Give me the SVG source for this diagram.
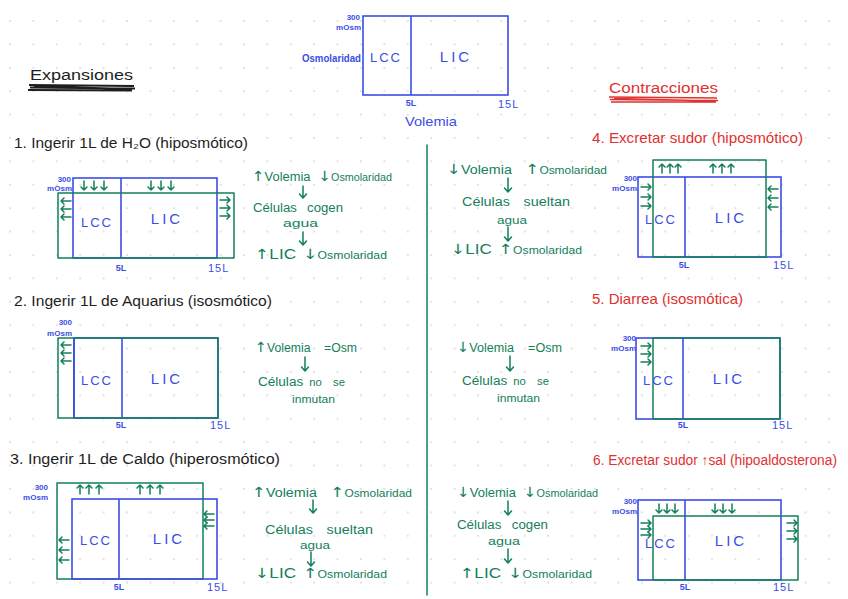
<svg xmlns="http://www.w3.org/2000/svg" width="848" height="599" viewBox="0 0 848 599">
<style>
text{font-family:"Liberation Sans","DejaVu Sans",sans-serif}
.b{stroke:#3b4ee6;fill:none;stroke-width:1.6}
.g{stroke:#13805a;fill:none;stroke-width:1.5;stroke-linecap:round;stroke-linejoin:round}
.tb{fill:#3b4ee6}
.tg{fill:#13805a}
.tr{fill:#e03131}
.tk{fill:#1e1e1e}
.lab{font-size:13px;letter-spacing:2px;text-anchor:middle}
.lic{font-size:15px;letter-spacing:3px;text-anchor:middle}
.osm{font-size:8px;font-weight:bold;text-anchor:end}
.vol{font-size:9px;font-weight:bold}
.ttl{font-size:14px}
.note{font-size:12px}
.ar{font-family:"DejaVu Sans",sans-serif;font-size:14px}
</style>
<defs>
<pattern id="grid" width="23.4" height="23.4" patternUnits="userSpaceOnUse" x="9" y="20">
<circle cx="1" cy="1" r="0.9" fill="#d4d4d4"/>
</pattern>
<path id="ad" d="M0,0 V9 M-3,6 L0,9 L3,6"/>
<path id="au" d="M0,9 V0 M-3,3 L0,0 L3,3"/>
<path id="al" d="M10,0 H0 M3,-3 L0,0 L3,3"/>
<path id="ar" d="M0,0 H10 M7,-3 L10,0 L7,3"/>
</defs>
<rect width="848" height="599" fill="#ffffff"/>
<rect width="848" height="599" fill="url(#grid)"/>

<g id="reference">
<rect class="b" x="363" y="16" width="145" height="79"/>
<line class="b" x1="411" y1="16" x2="411" y2="95"/>
<text class="tb osm" x="360" y="20">300</text>
<text class="tb osm" x="361" y="30">mOsm</text>
<text class="tb" x="302" y="62" font-size="10" font-weight="bold" textLength="59" lengthAdjust="spacingAndGlyphs">Osmolaridad</text>
<text class="tb lab" x="386" y="62">LCC</text>
<text class="tb lic" x="456" y="62">LIC</text>
<text class="tb vol" x="411" y="106" text-anchor="middle">5L</text>
<text class="tb" x="498" y="108" font-size="11" letter-spacing="1">15L</text>
<text class="tb" x="405" y="126" font-size="13" textLength="52" lengthAdjust="spacingAndGlyphs">Volemia</text>
</g>

<g id="titulo-expansiones">
<text class="tk" x="30" y="80" font-size="14" textLength="103" lengthAdjust="spacingAndGlyphs">Expansiones</text>
<path d="M29,85 L134,86 M30,87.5 L135,88.5 M28,90 L132,90.5 M34,86.5 L131,89" stroke="#1e1e1e" stroke-width="1.8" fill="none"/>
</g>

<g id="titulo-contracciones">
<text class="tr" x="609" y="93" font-size="14" textLength="109" lengthAdjust="spacingAndGlyphs">Contracciones</text>
<path d="M609,97 L717,98 M610,99.5 L718,100.5 M611,102 L716,102 M614,98.5 L714,101" stroke="#e03131" stroke-width="1.6" fill="none"/>
</g>

<g id="divisor">
<line class="g" x1="427" y1="145" x2="427" y2="595" stroke-width="1.8"/>
</g>

<g id="caso1">
<text class="tk ttl" x="14" y="148" textLength="234" lengthAdjust="spacingAndGlyphs">1. Ingerir 1L de H₂O (hiposmótico)</text>
<rect class="b" x="73" y="178" width="144" height="80"/>
<line class="b" x1="121" y1="178" x2="121" y2="258"/>
<rect class="g" x="58" y="193" width="176" height="65"/>
<text class="tb osm" x="71" y="182">300</text>
<text class="tb osm" x="72" y="191">mOsm</text>
<use href="#ad" class="g" x="84" y="181"/><use href="#ad" class="g" x="94" y="181"/><use href="#ad" class="g" x="104" y="181"/>
<use href="#ad" class="g" x="151" y="181"/><use href="#ad" class="g" x="161" y="181"/><use href="#ad" class="g" x="171" y="181"/>
<use href="#al" class="g" x="61" y="201"/><use href="#al" class="g" x="61" y="209"/><use href="#al" class="g" x="61" y="217"/>
<use href="#ar" class="g" x="220" y="200"/><use href="#ar" class="g" x="220" y="208"/><use href="#ar" class="g" x="220" y="216"/>
<text class="tb lab" x="97" y="227">LCC</text>
<text class="tb lic" x="167" y="224">LIC</text>
<text class="tb vol" x="121" y="271" text-anchor="middle">5L</text>
<text class="tb" x="208" y="272" font-size="11" letter-spacing="1">15L</text>
<text class="tg note" x="252" y="181" textLength="140" lengthAdjust="spacingAndGlyphs"><tspan class="ar">↑</tspan>Volemia <tspan class="ar" dx="4">↓</tspan><tspan font-size="10">Osmolaridad</tspan></text>
<text class="tg note" x="253" y="212" textLength="90" lengthAdjust="spacingAndGlyphs">Células <tspan dx="6">cogen</tspan></text>
<text class="tg" x="283" y="227" font-size="11" textLength="35" lengthAdjust="spacingAndGlyphs">agua</text>
<text class="tg" x="255" y="259" font-size="14" textLength="132" lengthAdjust="spacingAndGlyphs"><tspan class="ar">↑</tspan>LIC <tspan class="ar" dx="2">↓</tspan><tspan font-size="10">Osmolaridad</tspan></text>
</g>

<g id="caso2">
<text class="tk ttl" x="14" y="306" textLength="258" lengthAdjust="spacingAndGlyphs">2. Ingerir 1L de Aquarius (isosmótico)</text>
<rect class="b" x="74" y="338" width="144" height="80"/>
<line class="b" x1="122" y1="338" x2="122" y2="418"/>
<rect class="g" x="58" y="338" width="160" height="80"/>
<line class="b" x1="74" y1="338" x2="74" y2="418"/>
<text class="tb osm" x="72" y="325">300</text>
<text class="tb osm" x="72" y="336">mOsm</text>
<use href="#al" class="g" x="61" y="345"/><use href="#al" class="g" x="61" y="353"/><use href="#al" class="g" x="61" y="361"/>
<text class="tb lab" x="97" y="385">LCC</text>
<text class="tb lic" x="167" y="384">LIC</text>
<text class="tb vol" x="121" y="428" text-anchor="middle">5L</text>
<text class="tb" x="210" y="429" font-size="11" letter-spacing="1">15L</text>
<text class="tg note" x="255" y="352" textLength="102" lengthAdjust="spacingAndGlyphs"><tspan class="ar">↑</tspan>Volemia <tspan dx="10">=Osm</tspan></text>
<text class="tg note" x="258" y="386" textLength="87" lengthAdjust="spacingAndGlyphs">Células <tspan font-size="10" dx="2">no</tspan><tspan font-size="10" dx="10">se</tspan></text>
<text class="tg" x="292" y="403" font-size="10" textLength="43" lengthAdjust="spacingAndGlyphs">inmutan</text>
</g>

<g id="caso3">
<text class="tk ttl" x="10" y="464" textLength="270" lengthAdjust="spacingAndGlyphs">3. Ingerir 1L de Caldo (hiperosmótico)</text>
<rect class="g" x="57" y="483" width="146" height="96"/>
<rect class="b" x="72" y="499" width="145" height="80"/>
<line class="b" x1="119" y1="499" x2="119" y2="579"/>
<text class="tb osm" x="48" y="490">300</text>
<text class="tb osm" x="48" y="500">mOsm</text>
<use href="#au" class="g" x="80" y="485"/><use href="#au" class="g" x="89" y="485"/><use href="#au" class="g" x="99" y="485"/>
<use href="#au" class="g" x="140" y="485"/><use href="#au" class="g" x="150" y="485"/><use href="#au" class="g" x="160" y="485"/>
<use href="#al" class="g" x="59" y="540"/><use href="#al" class="g" x="59" y="550"/><use href="#al" class="g" x="59" y="560"/>
<use href="#al" class="g" x="204" y="514"/><use href="#al" class="g" x="204" y="520"/><use href="#al" class="g" x="204" y="526"/>
<text class="tb lab" x="96" y="545">LCC</text>
<text class="tb lic" x="169" y="544">LIC</text>
<text class="tb vol" x="119" y="590" text-anchor="middle">5L</text>
<text class="tb" x="207" y="591" font-size="11" letter-spacing="1">15L</text>
<text class="tg note" x="252" y="497" textLength="160" lengthAdjust="spacingAndGlyphs"><tspan class="ar">↑</tspan>Volemia <tspan class="ar" dx="8">↑</tspan><tspan font-size="10">Osmolaridad</tspan></text>
<text class="tg note" x="265" y="534" textLength="108" lengthAdjust="spacingAndGlyphs">Células <tspan dx="8">sueltan</tspan></text>
<text class="tg" x="300" y="549" font-size="11" textLength="30" lengthAdjust="spacingAndGlyphs">agua</text>
<text class="tg" x="255" y="578" font-size="14" textLength="132" lengthAdjust="spacingAndGlyphs"><tspan class="ar">↓</tspan>LIC <tspan class="ar" dx="2">↑</tspan><tspan font-size="10">Osmolaridad</tspan></text>
</g>

<g id="caso4">
<text class="tr" x="592" y="143" font-size="15" textLength="211" lengthAdjust="spacingAndGlyphs">4. Excretar sudor (hiposmótico)</text>
<rect class="b" x="638" y="177" width="143" height="80"/>
<line class="b" x1="685" y1="177" x2="685" y2="257"/>
<rect class="g" x="653" y="160" width="113" height="97"/>
<text class="tb osm" x="637" y="181">300</text>
<text class="tb osm" x="637" y="191">mOsm</text>
<use href="#au" class="g" x="662" y="164"/><use href="#au" class="g" x="670" y="164"/><use href="#au" class="g" x="678" y="164"/>
<use href="#au" class="g" x="713" y="164"/><use href="#au" class="g" x="722" y="164"/><use href="#au" class="g" x="731" y="164"/>
<use href="#ar" class="g" x="641" y="187"/><use href="#ar" class="g" x="641" y="197"/><use href="#ar" class="g" x="641" y="206"/>
<use href="#al" class="g" x="768" y="189"/><use href="#al" class="g" x="768" y="198"/><use href="#al" class="g" x="768" y="207"/>
<text class="tb lab" x="661" y="224">LCC</text>
<text class="tb lic" x="731" y="223">LIC</text>
<text class="tb vol" x="684" y="268" text-anchor="middle">5L</text>
<text class="tb" x="773" y="269" font-size="11" letter-spacing="1">15L</text>
<text class="tg note" x="447" y="174" textLength="160" lengthAdjust="spacingAndGlyphs"><tspan class="ar">↓</tspan>Volemia <tspan class="ar" dx="8">↑</tspan><tspan font-size="10">Osmolaridad</tspan></text>
<text class="tg note" x="462" y="206" textLength="108" lengthAdjust="spacingAndGlyphs">Células <tspan dx="8">sueltan</tspan></text>
<text class="tg" x="497" y="224" font-size="11" textLength="30" lengthAdjust="spacingAndGlyphs">agua</text>
<text class="tg" x="451" y="254" font-size="14" textLength="131" lengthAdjust="spacingAndGlyphs"><tspan class="ar">↓</tspan>LIC <tspan class="ar" dx="2">↑</tspan><tspan font-size="10">Osmolaridad</tspan></text>
</g>

<g id="caso5">
<text class="tr" x="592" y="304" font-size="15" textLength="151" lengthAdjust="spacingAndGlyphs">5. Diarrea (isosmótica)</text>
<rect class="b" x="636" y="338" width="144" height="81"/>
<rect class="g" x="653" y="338" width="127" height="81"/>
<line class="b" x1="683" y1="338" x2="683" y2="419"/>
<text class="tb osm" x="636" y="341">300</text>
<text class="tb osm" x="636" y="351">mOsm</text>
<use href="#ar" class="g" x="641" y="346"/><use href="#ar" class="g" x="641" y="354"/><use href="#ar" class="g" x="641" y="362"/>
<text class="tb lab" x="659" y="385">LCC</text>
<text class="tb lic" x="729" y="384">LIC</text>
<text class="tb vol" x="683" y="428" text-anchor="middle">5L</text>
<text class="tb" x="772" y="429" font-size="11" letter-spacing="1">15L</text>
<text class="tg note" x="457" y="352" textLength="105" lengthAdjust="spacingAndGlyphs"><tspan class="ar">↓</tspan>Volemia <tspan dx="10">=Osm</tspan></text>
<text class="tg note" x="462" y="385" textLength="87" lengthAdjust="spacingAndGlyphs">Células <tspan font-size="10" dx="2">no</tspan><tspan font-size="10" dx="10">se</tspan></text>
<text class="tg" x="497" y="402" font-size="10" textLength="43" lengthAdjust="spacingAndGlyphs">inmutan</text>
</g>

<g id="caso6">
<text class="tr" x="593" y="465" font-size="14" textLength="244" lengthAdjust="spacingAndGlyphs">6. Excretar sudor ↑sal (hipoaldosterona)</text>
<rect class="b" x="638" y="500" width="143" height="80"/>
<line class="b" x1="685" y1="500" x2="685" y2="580"/>
<rect class="g" x="653" y="516" width="145" height="64"/>
<text class="tb osm" x="637" y="504">300</text>
<text class="tb osm" x="637" y="514">mOsm</text>
<use href="#ad" class="g" x="659" y="504"/><use href="#ad" class="g" x="667" y="504"/><use href="#ad" class="g" x="675" y="504"/>
<use href="#ad" class="g" x="715" y="504"/><use href="#ad" class="g" x="723" y="504"/><use href="#ad" class="g" x="732" y="504"/>
<use href="#ar" class="g" x="641" y="523"/><use href="#ar" class="g" x="641" y="529"/><use href="#ar" class="g" x="641" y="535"/>
<use href="#ar" class="g" x="787" y="523"/><use href="#ar" class="g" x="787" y="531"/><use href="#ar" class="g" x="787" y="539"/>
<text class="tb lab" x="661" y="548">LCC</text>
<text class="tb lic" x="731" y="546">LIC</text>
<text class="tb vol" x="685" y="590" text-anchor="middle">5L</text>
<text class="tb" x="773" y="591" font-size="11" letter-spacing="1">15L</text>
<text class="tg note" x="457" y="497" textLength="141" lengthAdjust="spacingAndGlyphs"><tspan class="ar">↓</tspan>Volemia <tspan class="ar" dx="4">↓</tspan><tspan font-size="10">Osmolaridad</tspan></text>
<text class="tg note" x="457" y="529" textLength="91" lengthAdjust="spacingAndGlyphs">Células <tspan dx="6">cogen</tspan></text>
<text class="tg" x="488" y="545" font-size="11" textLength="32" lengthAdjust="spacingAndGlyphs">agua</text>
<text class="tg" x="460" y="578" font-size="14" textLength="132" lengthAdjust="spacingAndGlyphs"><tspan class="ar">↑</tspan>LIC <tspan class="ar" dx="2">↓</tspan><tspan font-size="10">Osmolaridad</tspan></text>
</g>

<g id="connectors">
<path class="g" d="M303,186 V198 M299.5,194 L303,198 L306.5,194"/>
<path class="g" d="M303,232 V245 M299.5,241 L303,245 L306.5,241"/>
<path class="g" d="M305,357 V371 M301.5,367 L305,371 L308.5,367"/>
<path class="g" d="M313,500 V513 M309.5,509 L313,513 L316.5,509"/>
<path class="g" d="M311,552 V566 M307.5,562 L311,566 L314.5,562"/>
<path class="g" d="M508,178 V192 M504.5,188 L508,192 L511.5,188"/>
<path class="g" d="M508,227 V241 M504.5,237 L508,241 L511.5,237"/>
<path class="g" d="M510,356 V371 M506.5,367 L510,371 L513.5,367"/>
<path class="g" d="M508,501 V515 M504.5,511 L508,515 L511.5,511"/>
<path class="g" d="M508,549 V563 M504.5,559 L508,563 L511.5,559"/>
</g>
</svg>
